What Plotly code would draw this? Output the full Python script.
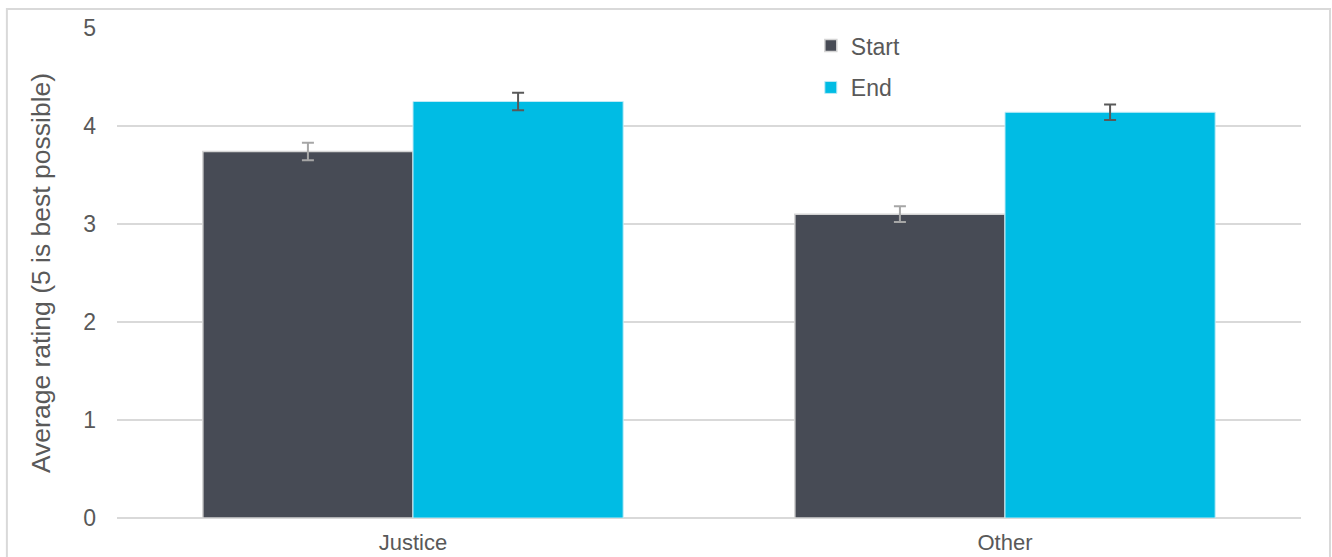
import plotly.graph_objects as go

categories = ["Justice", "Other"]
start_vals = [3.74, 3.10]
start_err = [0.09, 0.08]
end_vals = [4.25, 4.14]
end_err = [0.09, 0.08]

TXT = "#595959"
FONT = "Liberation Sans, Arial, sans-serif"

fig = go.Figure()
fig.add_trace(go.Bar(
    name="Start", x=categories, y=start_vals, legendgroup="a",
    marker=dict(color="#474B55", line=dict(color="#D4D4D4", width=1.5)),
    error_y=dict(type="data", array=start_err, color="#A6A6A6", thickness=2, width=6),
))
fig.add_trace(go.Bar(
    name="End", x=categories, y=end_vals, legendgroup="b",
    marker=dict(color="#00BCE4", line=dict(color="#BFEAF6", width=1)),
    error_y=dict(type="data", array=end_err, color="#595959", thickness=2, width=6),
))

fig.update_layout(
    width=1332, height=557,
    margin=dict(l=117, r=31, t=28, b=39),
    paper_bgcolor="white", plot_bgcolor="white",
    barmode="group", bargap=0.29, bargroupgap=0,
    font=dict(family=FONT, color=TXT, size=23),
    showlegend=True,
    legend=dict(x=0.586, y=1.008, xanchor="left", yanchor="top",
                traceorder="grouped", tracegroupgap=9,
                font=dict(size=23, color=TXT), bgcolor="rgba(0,0,0,0)"),
    xaxis=dict(showgrid=False, ticks="", showline=False, automargin=False,
               tickfont=dict(size=22, color=TXT), ticklabelstandoff=9),
    yaxis=dict(range=[0, 5], dtick=1, showgrid=True, gridcolor="#D9D9D9", gridwidth=1.5,
               zeroline=True, zerolinecolor="#D9D9D9", zerolinewidth=2,
               ticks="", tickfont=dict(size=23, color=TXT), ticklabelstandoff=20,
               title=dict(text="Average rating (5 is best possible)", font=dict(size=26.5, color=TXT), standoff=24)),
    shapes=[dict(type="rect", xref="paper", yref="paper",
                 x0=-0.093, x1=1.0245, y0=-0.2, y1=1.039,
                 line=dict(color="#D9D9D9", width=2), layer="below")],
)

fig.write_html("out.html", config={"displayModeBar": False},
               post_script="document.body.style.margin='0';document.body.style.padding='0';")
